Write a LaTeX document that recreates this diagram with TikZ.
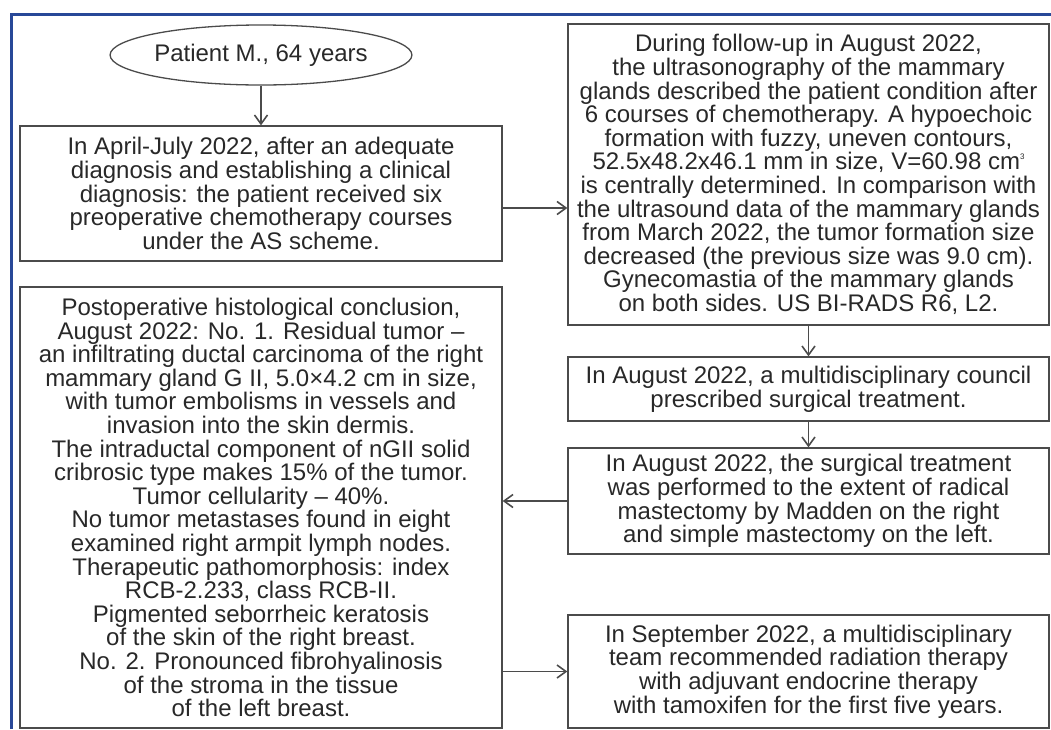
\documentclass[tikz,border=0pt]{standalone}
\usepackage{fontspec}
\setmainfont{Liberation Sans}
\usetikzlibrary{shapes.geometric,arrows.meta}
\definecolor{frameblue}{RGB}{40,72,152}
\definecolor{linegray}{RGB}{75,75,75}
\definecolor{txtgray}{RGB}{40,40,40}
\tikzset{
  box/.style={draw=linegray, line width=1.3pt, text=txtgray, align=center, inner sep=0pt,
    font=\fontsize{24}{23.6}\selectfont},
  arr/.style={draw=linegray, line width=1.3pt, -{Straight Barb[length=9pt,width=13pt,line width=1.6pt]}},
}
\begin{document}
\begin{tikzpicture}[x=1pt,y=-1pt]
\useasboundingbox (0,0) rectangle (1051,729);
\draw[frameblue, line width=2.5pt] (11.3,729) -- (11.3,14.5) -- (1051,14.5);

\node[box, ellipse, minimum width=255pt, minimum height=60pt] (pt) at (261,55) {Patient M., 64 years};

\node[box, minimum width=482pt, minimum height=135pt] (a) at (261,193.5)
{In April-July 2022, after an adequate\\
diagnosis and establishing a clinical\\
diagnosis: the patient received six\\
preoperative chemotherapy courses\\
under the AS scheme.};

\node[box, minimum width=481pt, minimum height=301pt] (b) at (808.5,174.5)
{During follow-up in August 2022,\\
the ultrasonography of the mammary\\
glands described the patient condition after\\
6 courses of chemotherapy. A hypoechoic\\
formation with fuzzy, uneven contours,\\
52.5x48.2x46.1 mm in size, V=60.98 cm{\fontsize{8}{8}\selectfont\raisebox{10pt}{3}}\\
is centrally determined. In comparison with\\
the ultrasound data of the mammary glands\\
from March 2022, the tumor formation size\\
decreased (the previous size was 9.0 cm).\\
Gynecomastia of the mammary glands\\
on both sides. US BI-RADS R6, L2.};

\node[box, minimum width=481pt, minimum height=64pt] (c) at (808.5,389)
{In August 2022, a multidisciplinary council\\
prescribed surgical treatment.};

\node[box, minimum width=481pt, minimum height=106pt] (d) at (808.5,501)
{In August 2022, the surgical treatment\\
was performed to the extent of radical\\
mastectomy by Madden on the right\\
and simple mastectomy on the left.};

\node[box, minimum width=481pt, minimum height=113pt] (e) at (808.5,671.5)
{In September 2022, a multidisciplinary\\
team recommended radiation therapy\\
with adjuvant endocrine therapy\\
with tamoxifen for the first five years.};

\node[box, minimum width=482pt, minimum height=441pt] (f) at (261,507.5)
{Postoperative histological conclusion,\\
August 2022: No. 1. Residual tumor –\\
an infiltrating ductal carcinoma of the right\\
mammary gland G II, 5.0×4.2 cm in size,\\
with tumor embolisms in vessels and\\
invasion into the skin dermis.\\
The intraductal component of nGII solid\\
cribrosic type makes 15\% of the tumor.\\
Tumor cellularity – 40\%.\\
No tumor metastases found in eight\\
examined right armpit lymph nodes.\\
Therapeutic pathomorphosis: index\\
RCB-2.233, class RCB-II.\\
Pigmented seborrheic keratosis\\
of the skin of the right breast.\\
No. 2. Pronounced fibrohyalinosis\\
of the stroma in the tissue\\
of the left breast.};

\draw[arr] (pt.south) -- (a.north);
\draw[arr] ([yshift=-14.5pt]a.east) -- ([yshift=-14.5pt]a.east -| b.west);
\draw[arr] (b.south) -- (c.north);
\draw[arr] (c.south) -- (d.north);
\draw[arr] (d.west) -- (d.west -| f.east);
\draw[arr] (e.west -| f.east) -- (e.west);
\end{tikzpicture}
\end{document}
